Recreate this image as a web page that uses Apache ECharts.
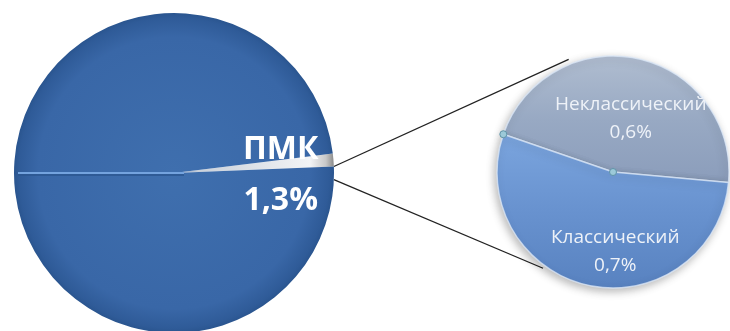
<!DOCTYPE html>
<html>
<head>
<meta charset="utf-8">
<script src="https://cdn.jsdelivr.net/npm/echarts@6/dist/echarts.min.js"></script>
<style>
  html, body { margin: 0; padding: 0; background: #fff; }
  #chart { width: 730px; height: 331px; }
</style>
</head>
<body>
<div id="chart"></div>
<script>
// Main pie: share of ПМК among all cases
const mainNames = ['Прочие', 'ПМК'];
const mainValues = [98.7, 1.3];

// Secondary pie: breakdown of ПМК
const subNames = ['Неклассический', 'Классический'];
const subValues = [0.6, 0.7];

// Layout of the two pies
const BIG = { cx: 174, cy: 173, r: 160 };
const SMALL = { cx: 613, cy: 172, r: 116 };
const MAIN_START = 2.34;   // ПМК wedge centred on the 3 o'clock direction
const SUB_START = 161;

const fmtPct = v => v.toFixed(1).replace('.', ',') + '%';
const rad = d => d * Math.PI / 180;
const rimPoint = (p, deg, rr) => [p.cx + (rr || p.r) * Math.cos(rad(deg)), p.cy - (rr || p.r) * Math.sin(rad(deg))];

const chart = echarts.init(document.getElementById('chart'), null, { renderer: 'canvas' });

// angles of the ПМК wedge edges
const mainTotal = mainValues.reduce((a, b) => a + b, 0);
const pmkSpan = mainValues[1] / mainTotal * 360;
const pmkTop = MAIN_START;
const pmkBottom = MAIN_START - pmkSpan;

// connector ends
const p1 = rimPoint(BIG, pmkTop);
const p2 = rimPoint(BIG, pmkBottom);
const q1 = rimPoint(SMALL, 111.5, SMALL.r + 5);
const q2 = rimPoint(SMALL, -126, SMALL.r + 3);

const subEdge = rimPoint(SMALL, SUB_START);
const leftSeam = rimPoint(BIG, 180, BIG.r - 4);

const option = {
  animation: false,
  backgroundColor: '#ffffff',
  series: [
    {
      type: 'pie',
      silent: true,
      center: [BIG.cx, BIG.cy],
      radius: [0, BIG.r],
      startAngle: MAIN_START,
      clockwise: false,
      avoidLabelOverlap: false,
      labelLine: { show: false },
      z: 2,
      data: [
        {
          name: mainNames[1], value: mainValues[1],
          itemStyle: {
            color: {
              type: 'linear', x: 0, y: 0, x2: 1, y2: 0,
              colorStops: [
                { offset: 0, color: '#6f8fbf' },
                { offset: 0.15, color: '#c9d0da' },
                { offset: 0.85, color: '#f3f4f6' },
                { offset: 0.95, color: '#c8c8c8' },
                { offset: 1, color: '#8a8a8a' }
              ]
            }
          },
          label: {
            show: true,
            position: 'inside',
            formatter: p => '{n|' + p.name + '}\n{v|' + fmtPct(p.value) + '}',
            rich: {
              n: { fontFamily: 'Open Sans', fontWeight: 'bold', fontSize: 32, color: '#ffffff', lineHeight: 51 },
              v: { fontFamily: 'Open Sans', fontWeight: 'bold', fontSize: 32, color: '#ffffff', lineHeight: 51 }
            }
          }
        },
        {
          name: mainNames[0], value: mainValues[0],
          label: { show: false },
          itemStyle: {
            color: {
              type: 'radial', x: 0.5, y: 0.5, r: 0.5,
              colorStops: [
                { offset: 0, color: '#3f6fae' },
                { offset: 0.85, color: '#3967a7' },
                { offset: 0.97, color: '#2f5b98' },
                { offset: 1, color: '#2a558f' }
              ]
            }
          }
        }
      ],
      labelLayout: p => (p.dataIndex === 0 ? { dx: 24, dy: 9 } : {})
    },
    {
      type: 'pie',
      silent: true,
      center: [SMALL.cx, SMALL.cy],
      radius: [0, SMALL.r],
      startAngle: SUB_START,
      clockwise: true,
      avoidLabelOverlap: false,
      labelLine: { show: false },
      z: 2,
      itemStyle: {
        borderColor: 'rgba(220,232,248,0.75)',
        borderWidth: 1.5,
        shadowColor: 'rgba(0,0,0,0.28)',
        shadowBlur: 8,
        shadowOffsetX: -2,
        shadowOffsetY: 3
      },
      label: {
        show: true,
        position: 'inside',
        formatter: p => p.name + '\n' + fmtPct(p.value),
        fontFamily: 'Open Sans',
        fontSize: 19,
        lineHeight: 28,
        color: '#eef2f8'
      },
      data: [
        {
          name: subNames[0], value: subValues[0],
          itemStyle: {
            color: {
              type: 'linear', x: 0, y: 0, x2: 0, y2: 1,
              colorStops: [
                { offset: 0, color: '#b0bdd0' },
                { offset: 0.5, color: '#98a9c3' },
                { offset: 1, color: '#8b9dbb' }
              ]
            }
          }
        },
        {
          name: subNames[1], value: subValues[1],
          itemStyle: {
            color: {
              type: 'linear', x: 0, y: 0, x2: 0, y2: 1,
              colorStops: [
                { offset: 0, color: '#7ba5de' },
                { offset: 0.5, color: '#6892cf' },
                { offset: 1, color: '#5882c0' }
              ]
            }
          }
        }
      ],
      labelLayout: p => (p.dataIndex === 0 ? { dx: 5, dy: 6 } : { dx: 15, dy: 20 })
    }
  ],
  graphic: [
    // seam across the left half of the main pie
    { type: 'line', z: 10, shape: { x1: leftSeam[0], y1: leftSeam[1] + 2, x2: BIG.cx + 10, y2: BIG.cy + 2 },
      style: { stroke: '#2b568f', lineWidth: 1.5 } },
    { type: 'line', z: 10, shape: { x1: leftSeam[0], y1: leftSeam[1], x2: BIG.cx + 10, y2: BIG.cy },
      style: { stroke: '#74a3de', lineWidth: 2 } },
    // connectors from the ПМК wedge to the secondary pie
    { type: 'line', z: 1, shape: { x1: p1[0], y1: p1[1], x2: q1[0], y2: q1[1] },
      style: { stroke: '#222222', lineWidth: 1.3 } },
    { type: 'line', z: 1, shape: { x1: p2[0], y1: p2[1], x2: q2[0], y2: q2[1] },
      style: { stroke: '#222222', lineWidth: 1.3 } },
    // handles on the secondary pie seam
    { type: 'circle', z: 10, shape: { cx: subEdge[0], cy: subEdge[1], r: 3.5 },
      style: { fill: '#9cc9d8', stroke: '#5f93a8', lineWidth: 1 } },
    { type: 'circle', z: 10, shape: { cx: SMALL.cx, cy: SMALL.cy, r: 3.5 },
      style: { fill: '#9cc9d8', stroke: '#5f93a8', lineWidth: 1 } }
  ]
};

chart.setOption(option);
</script>
</body>
</html>
